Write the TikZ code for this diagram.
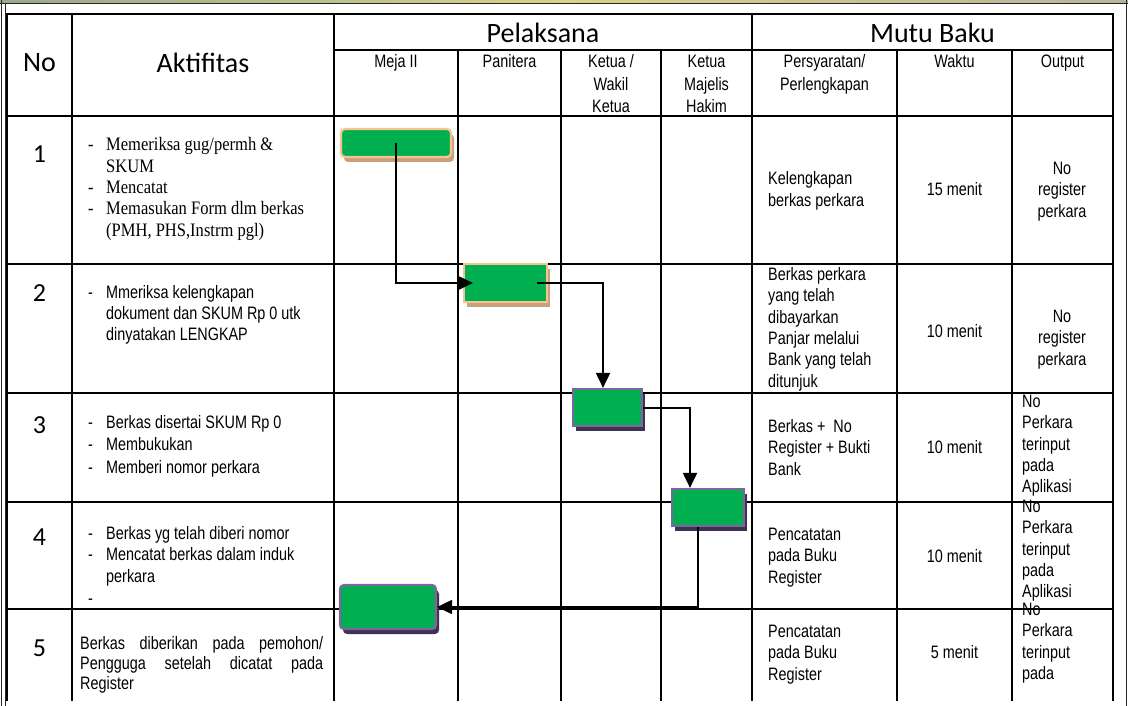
\documentclass[tikz,border=0pt]{standalone}
\usepackage{fontspec}
\setmainfont{Liberation Sans}[FakeStretch=0.8]
\newfontfamily\calib{Carlito}
\newfontfamily\cambr{Liberation Serif}[FakeStretch=0.87]
\usetikzlibrary{arrows.meta,shadows}
\definecolor{boxgreen}{HTML}{00B050}
\definecolor{peach}{HTML}{F9C28F}
\definecolor{tanshadow}{HTML}{C9A07E}
\definecolor{purpbord}{HTML}{8064A2}
\definecolor{purpshadow}{HTML}{3F3151}
\definecolor{bandleft}{HTML}{9AA88E}
\definecolor{bandmid}{HTML}{D8D28A}
\definecolor{bandright}{HTML}{B8B49A}
\newcommand{\dsh}{\makebox[18pt][l]{-}}
\newcommand{\ind}{\hspace*{18pt}}
\begin{document}
\begin{tikzpicture}[x=1pt,y=-1pt,
  gridline/.style={line width=1.7pt, line cap=rect},
  bigtxt/.style={font=\calib\fontsize{28}{30}\selectfont, inner sep=0},
  numtxt/.style={font=\calib\fontsize{26}{30}\selectfont, inner sep=0},
  lbtxt/.style={inner sep=0, anchor=base west},
  cbtxt/.style={inner sep=0, anchor=base},
  greenbox/.style={fill=boxgreen, line width=2.2pt, inner sep=0},
  peachbox/.style={greenbox, draw=peach, drop shadow={shadow xshift=3pt, shadow yshift=-5pt, fill=tanshadow, opacity=1}},
  purplebox/.style={greenbox, draw=purpbord, drop shadow={shadow xshift=3pt, shadow yshift=-5pt, fill=purpshadow, opacity=1}},
  conn/.style={line width=2pt, -{Triangle[length=15pt,width=14pt]}}
]
\useasboundingbox (0,0) rectangle (1128,706);
% outer frame
\shade[left color=bandleft, right color=bandright, middle color=bandmid] (0,0) rectangle (1128,2.6);
\draw[line width=1.3pt, black!85] (0,3.3) -- (1128,3.3);
\draw[line width=1.2pt, black!85] (1.5,0) -- (1.5,706);
\draw[line width=1pt, black!85] (5,4) -- (5,706);
\draw[line width=1.5pt, black!85] (1126.5,0) -- (1126.5,706);
% table grid
\draw[gridline] (7,14) -- (1113,14);
\draw[gridline] (334,50) -- (1113,50);
\foreach \yy in {116,264,393,502,609} \draw[gridline] (7,\yy) -- (1113,\yy);
\foreach \xx in {7,72,334,752,1113} \draw[gridline] (\xx,14) -- (\xx,700);
\foreach \xx in {458,561,661,897,1012} \draw[gridline] (\xx,50) -- (\xx,700);
% header
\node[bigtxt] (hno) at (39.5,63) {No};
\node[bigtxt] (hakt) at (203,63) {Aktifitas};
\node[bigtxt] (hpel) at (543,32.5) {Pelaksana};
\node[bigtxt] (hmutu) at (932.5,32.5) {Mutu Baku};
\begin{scope}[font=\fontsize{18}{22.5}\selectfont]
\node[cbtxt] (hmeja) at (396,68) {\parbox[t]{110pt}{\centering Meja II}};
\node[cbtxt] (hpan) at (509.5,68) {\parbox[t]{95pt}{\centering Panitera}};
\node[cbtxt] (hket) at (611,68) {\parbox[t]{95pt}{\centering Ketua /\\Wakil\\Ketua}};
\node[cbtxt] (hkmh) at (706.5,68) {\parbox[t]{88pt}{\centering Ketua\\Majelis\\Hakim}};
\node[cbtxt] (hpers) at (824.5,68) {\parbox[t]{140pt}{\centering Persyaratan/\\Perlengkapan}};
\node[cbtxt] (hwak) at (954.5,68) {\parbox[t]{110pt}{\centering Waktu}};
\node[cbtxt] (hout) at (1062.5,68) {\parbox[t]{95pt}{\centering Output}};
\end{scope}
% row numbers
\node[numtxt] (n1) at (39.5,154) {1};
\node[numtxt] (n2) at (39.5,293.5) {2};
\node[numtxt] (n3) at (39.5,425) {3};
\node[numtxt] (n4) at (39.5,537) {4};
\node[numtxt] (n5) at (39.5,648) {5};
% activities
\node[lbtxt, font=\cambr\fontsize{19}{21.3}\selectfont] (a1) at (88,151) {\parbox[t]{244pt}{\raggedright
\dsh Memeriksa gug/permh \&\\\ind SKUM\\\dsh Mencatat\\\dsh Memasukan Form dlm berkas\\\ind (PMH, PHS,Instrm pgl)}};
\node[lbtxt, font=\fontsize{18}{21}\selectfont] (a2) at (88,298.5) {\parbox[t]{244pt}{\raggedright
\dsh Mmeriksa kelengkapan\\\ind dokument dan SKUM Rp 0 utk\\\ind dinyatakan LENGKAP}};
\node[lbtxt, font=\fontsize{18}{22.5}\selectfont] (a3) at (88,428) {\parbox[t]{244pt}{\raggedright
\dsh Berkas disertai SKUM Rp 0\\\dsh Membukukan\\\dsh Memberi nomor perkara}};
\node[lbtxt, font=\fontsize{18}{21.7}\selectfont] (a4) at (88,539) {\parbox[t]{244pt}{\raggedright
\dsh Berkas yg telah diberi nomor\\\dsh Mencatat berkas dalam induk\\\ind perkara\\\dsh}};
\node[lbtxt, font=\fontsize{18}{20}\selectfont] (a5) at (80,649) {\parbox[t]{243pt}{
Berkas diberikan pada pemohon/\linebreak Pengguga setelah dicatat pada\linebreak Register}};
% mutu baku
\begin{scope}[font=\fontsize{18}{21.3}\selectfont]
\node[lbtxt] (p1) at (768,185) {\parbox[t]{125pt}{\raggedright Kelengkapan\\berkas perkara}};
\node[cbtxt] (w1) at (954.5,195.5) {15 menit};
\node[cbtxt] (o1) at (1062,174.5) {\parbox[t]{95pt}{\centering No\\register\\perkara}};
\node[lbtxt] (p2) at (768,280.5) {\parbox[t]{125pt}{\raggedright Berkas perkara\\yang telah\\dibayarkan\\Panjar melalui\\Bank yang telah\\ditunjuk}};
\node[cbtxt] (w2) at (954.5,337.5) {10 menit};
\node[cbtxt] (o2) at (1062,322.5) {\parbox[t]{95pt}{\centering No\\register\\perkara}};
\node[lbtxt] (p3) at (768,432.5) {\parbox[t]{125pt}{\raggedright Berkas +~~No\\Register + Bukti\\Bank}};
\node[cbtxt] (w3) at (954.5,453.5) {10 menit};
\node[lbtxt] (o3) at (1022,407.5) {\parbox[t]{90pt}{\raggedright No\\Perkara\\terinput\\pada\\Aplikasi}};
\node[lbtxt] (p4) at (768,540.5) {\parbox[t]{125pt}{\raggedright Pencatatan\\pada Buku\\Register}};
\node[cbtxt] (w4) at (954.5,562.5) {10 menit};
\node[lbtxt] (o4) at (1022,512.5) {\parbox[t]{90pt}{\raggedright No\\Perkara\\terinput\\pada\\Aplikasi}};
\node[lbtxt] (p5) at (768,637.5) {\parbox[t]{125pt}{\raggedright Pencatatan\\pada Buku\\Register}};
\node[cbtxt] (w5) at (954.5,658.5) {5 menit};
\node[lbtxt] (o5) at (1022,615.5) {\parbox[t]{90pt}{\raggedright No\\Perkara\\terinput\\pada}};
\end{scope}
% process boxes
\node[peachbox, rounded corners=4pt, minimum width=110pt, minimum height=28pt] (b1) at (396,143) {};
\node[peachbox, minimum width=83pt, minimum height=38pt] (b2) at (505.5,283) {};
\node[purplebox, minimum width=69pt, minimum height=37pt] (b3) at (607.5,407.5) {};
\node[purplebox, minimum width=72pt, minimum height=37pt] (b4) at (708,507.5) {};
\node[purplebox, rounded corners=4pt, minimum width=96pt, minimum height=44pt] (b5) at (388,607) {};
% connectors
\draw[conn] (b1.center) |- ([xshift=10pt]b2.west);
\draw[conn] ([xshift=-11pt]b2.east) -| ([xshift=-4.5pt]b3.north);
\draw[conn] (b3.east) -| ([xshift=-18pt]b4.north);
\draw[conn] ([xshift=-10pt]b4.south) |- (b5.east);
\end{tikzpicture}
\end{document}
